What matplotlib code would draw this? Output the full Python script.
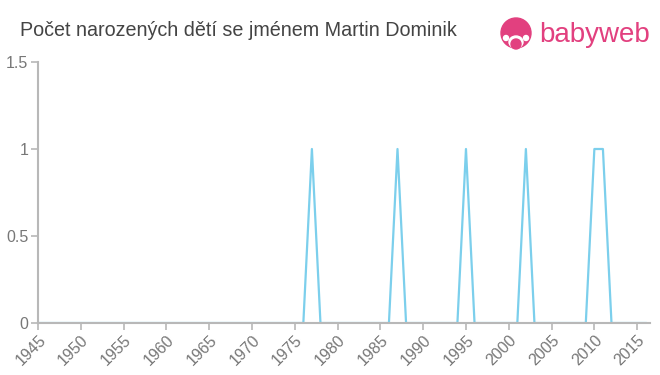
import matplotlib.pyplot as plt
from matplotlib.patches import Circle, Ellipse

# Data
years = list(range(1945, 2017))
peak_years = [1977, 1987, 1995, 2002, 2010, 2011]
counts = [1 if y in peak_years else 0 for y in years]

x_ticks = list(range(1945, 2020, 5))
y_ticks = [0, 0.5, 1, 1.5]
y_labels = ['0', '0.5', '1', '1.5']

title = 'Počet narozených dětí se jménem Martin Dominik'

plt.rcParams['font.family'] = ['Liberation Sans', 'DejaVu Sans']

fig = plt.figure(figsize=(6.6, 3.75), dpi=100)
ax = fig.add_axes([38 / 660, 52 / 375, 612 / 660, 261 / 375])

ax.plot(years, counts, color='#7ccfec', linewidth=1.6)

ax.set_xlim(1945, 2016.5)
ax.set_ylim(0, 1.5)
ax.set_xticks(x_ticks)
ax.set_xticklabels([str(t) for t in x_ticks], rotation=45, ha='right',
                   rotation_mode='anchor', fontsize=11.5, color='#777777')
ax.set_yticks(y_ticks)
ax.set_yticklabels(y_labels, fontsize=11.5, color='#777777')

for side in ['top', 'right']:
    ax.spines[side].set_visible(False)
for side in ['left', 'bottom']:
    ax.spines[side].set_color('#b8b8b8')
    ax.spines[side].set_linewidth(1.5)
ax.tick_params(axis='both', color='#b8b8b8', length=5, width=1.2, pad=2)

fig.text(20 / 660, 1 - 30 / 375, title, fontsize=14.2, color='#444444',
         va='center', ha='left')

# babyweb logo
pink = '#e2407f'
fig.text(539 / 660, 1 - 35 / 375, 'babyweb', fontsize=20, color=pink,
         va='center', ha='left')
lax = fig.add_axes([498 / 660, 1 - 52 / 375, 36 / 660, 36 / 375])
lax.set_xlim(0, 36)
lax.set_ylim(0, 36)
lax.axis('off')
lax.add_patch(Circle((18, 19), 15, color=pink))
lax.add_patch(Ellipse((18, 10), 14, 12, color='white'))
lax.add_patch(Circle((18, 8), 5, color=pink))
lax.add_patch(Circle((8, 14), 2.5, color='white'))
lax.add_patch(Circle((28, 14), 2.5, color='white'))

plt.savefig('out.png', dpi=100)
